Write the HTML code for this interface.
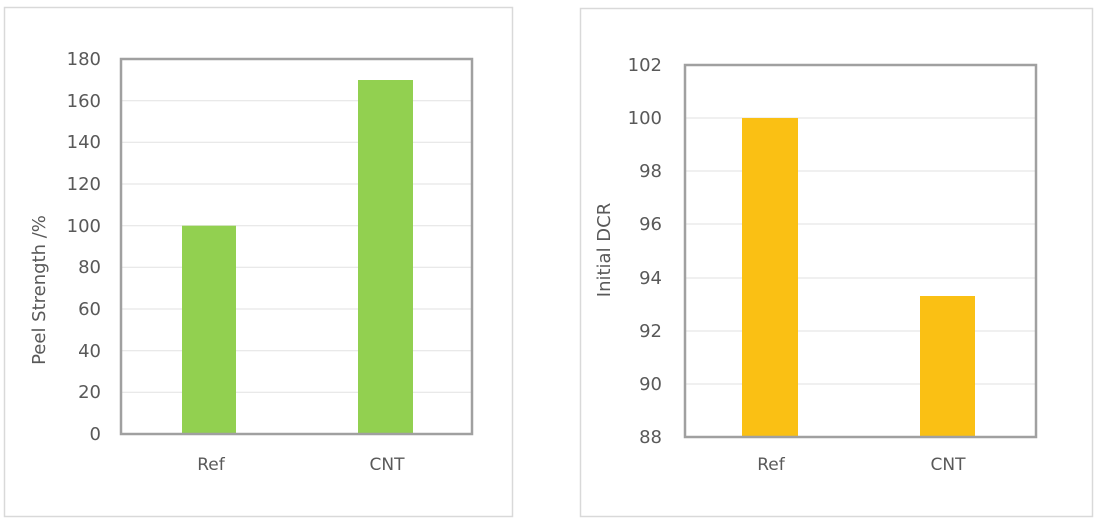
<!DOCTYPE html>
<html><head><meta charset="utf-8"><style>
body{margin:0;background:#fff;}
svg text{font-family:"DejaVu Sans","Liberation Sans",sans-serif;fill:#595959;}
</style></head><body>
<svg width="1098" height="524" xmlns="http://www.w3.org/2000/svg">
<rect width="1098" height="524" fill="#fff"/>
<!-- left chart -->
<rect x="4.5" y="7.5" width="508" height="509" fill="#fff" stroke="#d9d9d9" stroke-width="1.5"/>
<g stroke="#e6e6e6" stroke-width="1.2">
<line x1="121" x2="471" y1="392.3" y2="392.3"/><line x1="121" x2="471" y1="350.7" y2="350.7"/>
<line x1="121" x2="471" y1="309" y2="309"/><line x1="121" x2="471" y1="267.3" y2="267.3"/>
<line x1="121" x2="471" y1="225.7" y2="225.7"/><line x1="121" x2="471" y1="184" y2="184"/>
<line x1="121" x2="471" y1="142.3" y2="142.3"/><line x1="121" x2="471" y1="100.7" y2="100.7"/>
</g>
<rect x="182" y="225.7" width="54" height="208.3" fill="#92d050"/>
<rect x="358" y="80" width="55" height="354" fill="#92d050"/>
<rect x="121" y="59" width="351" height="375" fill="none" stroke="#a0a0a0" stroke-width="2.5"/>
<g font-size="18" text-anchor="end">
<text x="101" y="440">0</text><text x="101" y="398">20</text><text x="101" y="357">40</text>
<text x="101" y="315">60</text><text x="101" y="273">80</text><text x="101" y="232">100</text>
<text x="101" y="190">120</text><text x="101" y="148">140</text><text x="101" y="107">160</text>
<text x="101" y="65">180</text>
</g>
<g font-size="17" text-anchor="middle">
<text x="211" y="470">Ref</text><text x="387" y="470">CNT</text>
</g>
<text font-size="18" text-anchor="middle" transform="translate(45,290) rotate(-90)">Peel Strength /%</text>
<!-- right chart -->
<rect x="580.5" y="8.5" width="512" height="508" fill="#fff" stroke="#d9d9d9" stroke-width="1.5"/>
<g stroke="#e6e6e6" stroke-width="1.2">
<line x1="685" x2="1035" y1="384" y2="384"/><line x1="685" x2="1035" y1="331" y2="331"/>
<line x1="685" x2="1035" y1="278" y2="278"/><line x1="685" x2="1035" y1="224" y2="224"/>
<line x1="685" x2="1035" y1="171" y2="171"/><line x1="685" x2="1035" y1="118" y2="118"/>
</g>
<rect x="742" y="118" width="56" height="319" fill="#fac014"/>
<rect x="920" y="296" width="55" height="141" fill="#fac014"/>
<rect x="685" y="65" width="351" height="372" fill="none" stroke="#a0a0a0" stroke-width="2.5"/>
<g font-size="18" text-anchor="end">
<text x="662" y="443">88</text><text x="662" y="390">90</text><text x="662" y="337">92</text>
<text x="662" y="284">94</text><text x="662" y="230">96</text><text x="662" y="177">98</text>
<text x="662" y="124">100</text><text x="662" y="71">102</text>
</g>
<g font-size="17" text-anchor="middle">
<text x="771" y="470">Ref</text><text x="948" y="470">CNT</text>
</g>
<text font-size="18" text-anchor="middle" transform="translate(610,250) rotate(-90)">Initial DCR</text>
</svg>
</body></html>
